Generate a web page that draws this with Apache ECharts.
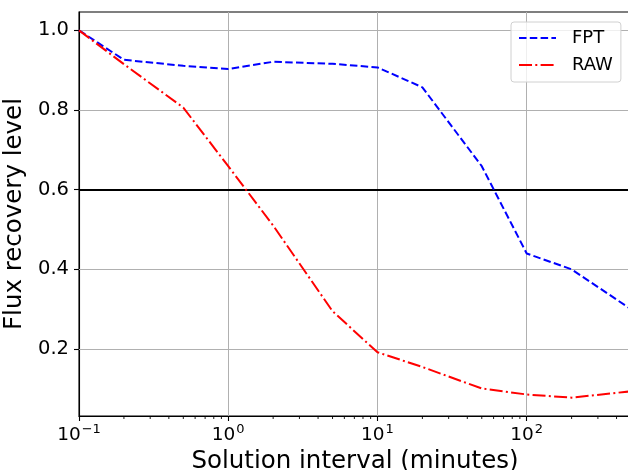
<!DOCTYPE html>
<html>
<head>
<meta charset="utf-8">
<script src="https://cdn.jsdelivr.net/npm/echarts@6/dist/echarts.min.js"></script>
<style>html,body{margin:0;padding:0;background:#fff}#c{width:628px;height:470px}</style>
</head>
<body>
<div id="c"></div>
<script>
// Data
const intervals = [0.1, 0.2, 0.5, 1, 2, 5, 10, 20, 50, 100, 200, 500];
const fpt = [1.0, 0.926, 0.911, 0.903, 0.921, 0.916, 0.907, 0.857, 0.659, 0.440, 0.400, 0.300];
const raw = [1.0, 0.915, 0.806, 0.659, 0.510, 0.295, 0.192, 0.155, 0.101, 0.086, 0.078, 0.094];
const yTicks = [0.2, 0.4, 0.6, 0.8, 1.0];
const thresholdLevel = 0.6;
const minorTicks = [0.2,0.3,0.4,0.5,0.6,0.7,0.8,0.9,2,3,4,5,6,7,8,9,20,30,40,50,60,70,80,90,200,300,400];
const X_MIN = 0.1, X_MAX = 500, Y_MIN = 0.032, Y_MAX = 1.046;

const FONT = 'DejaVu Sans';
const chart = echarts.init(document.getElementById('c'), null, {renderer: 'canvas'});
chart.setOption({
  animation: false,
  textStyle: {fontFamily: FONT},
  grid: {left: 79, top: 12, width: 552, height: 404, show: true, borderColor: '#000', borderWidth: 1.1,
         backgroundColor: 'transparent', containLabel: false, outerBoundsMode: 'none'},
  legend: {
    data: ['FPT', 'RAW'],
    orient: 'vertical',
    left: 511, top: 22,
    padding: [7, 8, 8, 7],
    itemGap: 9,
    itemWidth: 37, itemHeight: 14,
    borderColor: '#d0d0d0', borderWidth: 1, borderRadius: 3,
    backgroundColor: 'rgba(255,255,255,0.8)',
    itemStyle: {opacity: 0},
    textStyle: {fontFamily: FONT, fontSize: 18, color: '#000', padding: [0, 0, 0, 11]}
  },
  xAxis: {
    type: 'log', logBase: 10, min: X_MIN, max: X_MAX,
    name: 'Solution interval (minutes)', nameLocation: 'middle', nameGap: 27,
    nameTextStyle: {fontFamily: FONT, fontSize: 24.5, color: '#000'},
    axisLine: {show: true, lineStyle: {color: '#000', width: 1.1}},
    axisTick: {show: true, length: 5, lineStyle: {color: '#000', width: 1.1}},
    splitLine: {show: true, lineStyle: {color: '#b0b0b0', width: 1}},
    minorTick: {show: false},
    axisLabel: {
      margin: 7, color: '#000', fontFamily: FONT, showMaxLabel: false,
      formatter: function (v) {
        const e = Math.log10(v);
        const r = Math.round(e);
        if (Math.abs(e - r) > 1e-6) return '';
        const s = r < 0 ? '−' + (-r) : String(r);
        return '{b|10}{s|' + s + '}';
      },
      rich: {
        b: {fontSize: 18.5, fontFamily: FONT, color: '#000'},
        s: {fontSize: 13, fontFamily: FONT, color: '#000', padding: [0, 0, 11, 1]}
      }
    }
  },
  yAxis: {
    type: 'value', min: Y_MIN, max: Y_MAX,
    name: 'Flux recovery level', nameLocation: 'middle', nameGap: 42,
    nameTextStyle: {fontFamily: FONT, fontSize: 24.5, color: '#000'},
    axisLine: {show: true, lineStyle: {color: '#000', width: 1.1}},
    axisTick: {show: true, length: 5, customValues: yTicks, lineStyle: {color: '#000', width: 1.1}},
    splitLine: {show: false},
    axisLabel: {
      customValues: yTicks, margin: 10, color: '#000', fontFamily: FONT, fontSize: 19.5,
      formatter: function (v) { return v.toFixed(1); }
    }
  },
  series: [
    {
      name: 'grid', type: 'line', data: [], silent: true, z: 1,
      markLine: {
        silent: true, symbol: 'none', z: 1, animation: false,
        label: {show: false},
        lineStyle: {color: '#b0b0b0', width: 1, type: 'solid'},
        data: yTicks.filter(v => v !== thresholdLevel).map(v => ({yAxis: v}))
      }
    },
    {
      name: 'threshold', type: 'line', data: [], silent: true, z: 1,
      markLine: {
        silent: true, symbol: 'none', z: 1, animation: false,
        label: {show: false},
        lineStyle: {color: '#000', width: 1.8, type: 'solid'},
        data: [{yAxis: thresholdLevel}]
      }
    },
    {
      name: 'FPT', type: 'line', z: 3,
      data: intervals.map((x, i) => [x, fpt[i]]),
      symbol: 'none', showSymbol: false,
      lineStyle: {color: '#0000ff', width: 2, type: [7.5, 3.3]},
      itemStyle: {color: '#0000ff'}
    },
    {
      name: 'RAW', type: 'line', z: 3,
      data: intervals.map((x, i) => [x, raw[i]]),
      symbol: 'none', showSymbol: false,
      lineStyle: {color: '#ff0000', width: 2, type: [13, 3.3, 2, 3.3]},
      itemStyle: {color: '#ff0000'}
    },
    {
      name: 'minorTicks', type: 'custom', silent: true, clip: false, z: 4,
      data: minorTicks.map(v => [v, Y_MIN]),
      renderItem: function (params, api) {
        const p = api.coord([api.value(0), api.value(1)]);
        return {type: 'line', shape: {x1: p[0], y1: p[1], x2: p[0], y2: p[1] + 3}, style: {stroke: '#000', lineWidth: 0.9}};
      }
    }
  ]
});
</script>
</body>
</html>
